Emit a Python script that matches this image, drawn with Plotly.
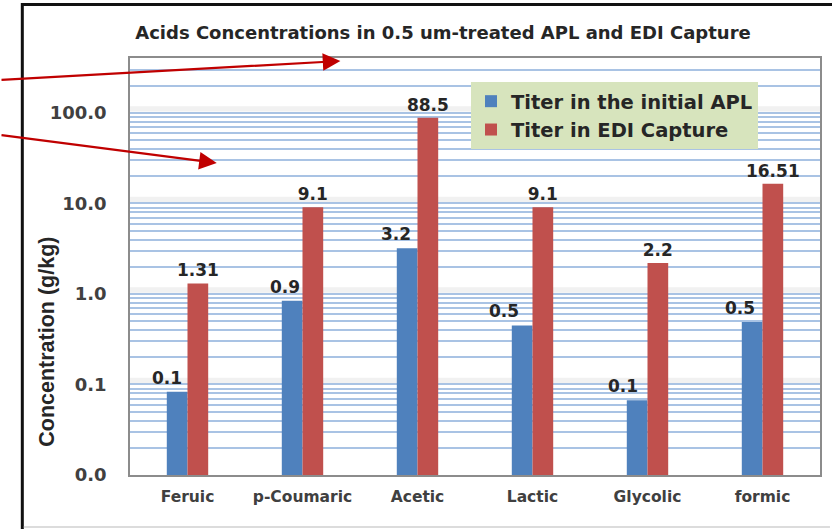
import plotly.graph_objects as go
import math

categories = ["Feruic", "p-Coumaric", "Acetic", "Lactic", "Glycolic", "formic"]
initial_apl = [0.083, 0.84, 3.2, 0.45, 0.067, 0.49]
initial_apl_labels = ["0.1", "0.9", "3.2", "0.5", "0.1", "0.5"]
edi_capture = [1.31, 9.1, 88.5, 9.1, 2.2, 16.51]
edi_capture_labels = ["1.31", "9.1", "88.5", "9.1", "2.2", "16.51"]
major_ticks = [0.01, 0.1, 1, 10, 100]
major_tick_labels = ["0.0", "0.1", "1.0", "10.0", "100.0"]

W, H = 832, 529
L, R, T, B = 130, 822, 58, 475
FONT = "DejaVu Sans, Verdana, sans-serif"
BAR_PX = 20.8
# hand-placed nudges of the blue value labels (pixels, left of bar centre)
blue_label_nudge = [-10, -7, -11, -18, -14, -12]

def px(x):
    return (x - L) / (R - L)

def py(y):
    return (B - y) / (B - T)

# tick grid: every 1..9 within decades, labels only at powers of ten
tickvals, ticktext = [], []
for d in range(-2, 3):
    for m in range(1, 10):
        v = m * 10 ** d
        if v > 400:
            break
        tickvals.append(v)
        lab = ""
        for mv, ml in zip(major_ticks, major_tick_labels):
            if abs(mv - v) < 1e-12:
                lab = ml
        ticktext.append(lab)

label_font = dict(family=FONT, size=17, color="#262626")

fig = go.Figure()
fig.add_trace(go.Bar(
    x=categories, y=initial_apl, name="<b>Titer in the initial APL</b>",
    legendgroup="a",
    marker=dict(color="#4f81bd", line=dict(width=0)),
))
fig.add_trace(go.Bar(
    x=categories, y=edi_capture, name="<b>Titer in EDI Capture</b>",
    legendgroup="b",
    marker=dict(color="#c0504d", line=dict(width=0)),
    text=edi_capture_labels, textposition="outside", cliponaxis=False,
    constraintext="none", textfont=label_font,
    texttemplate="<b>%{text}</b>",
))

shapes = [
    # outer frame
    dict(type="rect", xref="paper", yref="paper", x0=px(22), x1=px(900), y0=py(4.5), y1=py(600),
         line=dict(color="#111111", width=3), fillcolor="rgba(0,0,0,0)", layer="above"),
    dict(type="line", xref="paper", yref="paper", x0=px(23.5), x1=px(832), y0=py(527), y1=py(527),
         line=dict(color="#d0d0d0", width=1.5), layer="above"),
]
# faint shading just above each major gridline
for mv in major_ticks[1:]:
    shapes.append(dict(type="rect", xref="paper", yref="y", x0=0, x1=1,
                       y0=mv * 10 ** 0.015, y1=mv * 10 ** 0.075,
                       fillcolor="#f1f1f1", line=dict(width=0), layer="below"))

annotations = [
    dict(xref="paper", yref="paper", x=px(341), y=py(61), ax=-341, ay=19,
         text="", showarrow=True, arrowhead=2, arrowsize=1.6, arrowwidth=2.2, arrowcolor="#c00000"),
    dict(xref="paper", yref="paper", x=px(217), y=py(163), ax=-217, ay=-28,
         text="", showarrow=True, arrowhead=2, arrowsize=1.6, arrowwidth=2.2, arrowcolor="#c00000"),
    dict(xref="paper", yref="paper", x=px(46), y=py(341.5), xanchor="center", yanchor="middle",
         text="<b>Concentration (g/kg)</b>", textangle=-90, showarrow=False,
         font=dict(family="Liberation Sans, Arial", size=21.5, color="#262626")),
]
for cat, val, lab, nud in zip(categories, initial_apl, initial_apl_labels, blue_label_nudge):
    annotations.append(dict(
        xref="x", yref="y", x=cat, y=math.log10(val), xanchor="center", yanchor="bottom",
        xshift=-BAR_PX / 2 + nud, yshift=2, text="<b>%s</b>" % lab, showarrow=False,
        font=label_font))

fig.update_layout(
    width=W, height=H,
    margin=dict(l=L, r=W - R, t=T, b=H - B, pad=0),
    paper_bgcolor="white", plot_bgcolor="white",
    barmode="group", bargap=0.64, bargroupgap=0,
    font=dict(family=FONT, color="#404040"),
    title=dict(text="<b>Acids Concentrations in 0.5 um-treated APL and EDI Capture</b>",
               x=443 / W, xanchor="center", y=1 - 33 / H, yanchor="middle",
               font=dict(size=18, color="#262626")),
    legend=dict(x=px(472), y=py(82), xanchor="left", yanchor="top",
                bgcolor="#d7e4bd", borderwidth=0,
                font=dict(size=19.5, color="#262626"),
                itemwidth=30, tracegroupgap=7, traceorder="normal"),
    showlegend=True,
    shapes=shapes,
    annotations=annotations,
    xaxis=dict(showgrid=False, showline=True, linecolor="#8c8c8c", linewidth=1.5, mirror=True,
               ticks="", tickfont=dict(size=15.5, color="#404040"), ticklabelstandoff=7,
               tickvals=categories, ticktext=["<b>%s</b>" % c for c in categories]),
    yaxis=dict(type="log", range=[-2, math.log10(405)],
               tickvals=tickvals, ticktext=["<b>%s</b>" % t if t else "" for t in ticktext],
               tickfont=dict(size=18, color="#404040"),
               showgrid=True, gridcolor="#a9c3e4", gridwidth=1.6,
               showline=True, linecolor="#8c8c8c", linewidth=1.5, mirror=True,
               ticks="", ticklabelstandoff=18, zeroline=False),
)

fig.write_html("out.html", config={"displayModeBar": False},
               post_script="document.body.style.margin='0';document.body.style.padding='0';")
